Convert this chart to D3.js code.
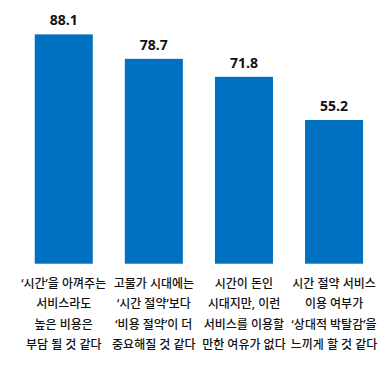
<!DOCTYPE html>
<html><head><meta charset="utf-8">
<script src="https://cdn.jsdelivr.net/npm/d3@7"></script>
<style>html,body{margin:0;padding:0;background:#fff;}</style>
</head><body>
<svg id="chart" width="392" height="365"></svg>
<script>
const categories = ["c1","c2","c3","c4"];
const values = [88.1, 78.7, 71.8, 55.2];
const labelLines = [
  ["‘시간’을 아껴주는","서비스라도","높은 비용은","부담 될 것 같다"],
  ["고물가 시대에는","‘시간 절약’보다","‘비용 절약’이 더","중요해질 것 같다"],
  ["시간이 돈인","시대지만, 이런","서비스를 이용할","만한 여유가 없다"],
  ["시간 절약 서비스","이용 여부가","‘상대적 박탈감’을","느끼게 할 것 같다"]
];

const svg = d3.select("#chart");
const x = d3.scaleBand().domain(categories).range([18.7, 379.1]).paddingInner(0.356).paddingOuter(0.178);
const y = d3.scaleLinear().domain([0, 100]).range([263.7, 3.4]);

svg.selectAll("rect.bar").data(values).join("rect")
  .attr("class","bar")
  .attr("x",(d,i)=>x(categories[i]))
  .attr("y",d=>y(d))
  .attr("width",x.bandwidth())
  .attr("height",d=>y(0)-y(d))
  .attr("fill","#0070c0");

svg.selectAll("text.val").data(values).join("text")
  .attr("class","val")
  .attr("x",(d,i)=>x(categories[i])+x.bandwidth()/2)
  .attr("y",d=>y(d)-9)
  .attr("text-anchor","middle")
  .attr("font-family","'Open Sans', sans-serif")
  .attr("font-weight","700")
  .attr("font-size","14px")
  .attr("fill","#111")
  .text(d=>d.toFixed(1));

const g = svg.selectAll("text.cat").data(labelLines).join("text")
  .attr("class","cat")
  .attr("text-anchor","middle")
  .attr("font-family","'Noto Sans', 'Noto Sans CJK KR', sans-serif")
  .attr("font-weight","500")
  .attr("font-size","12px")
  .attr("fill","#111");
g.each(function(lines,i){
  const cx = x(categories[i]) + x.bandwidth()/2;
  d3.select(this).selectAll("tspan").data(lines).join("tspan")
    .attr("x",cx)
    .attr("y",(d,j)=>288 + j*20.4)
    .text(d=>d);
});
</script>
</body></html>
